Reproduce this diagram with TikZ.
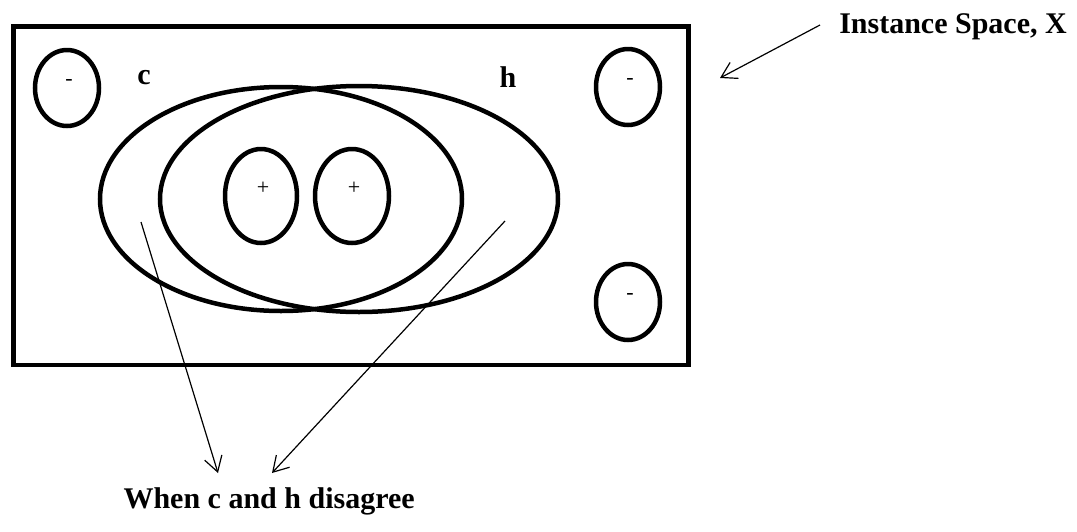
\documentclass[tikz,border=0pt]{standalone}
\usepackage{fontspec}
\setmainfont{Liberation Serif}
\usetikzlibrary{shapes.geometric,arrows.meta}

\begin{document}
\begin{tikzpicture}[x=1pt,y=-1pt,
    region/.style={draw,ellipse,line width=4.5pt,inner sep=0pt},
    sign/.style={inner sep=0pt,font=\fontsize{22}{22}\selectfont},
    lbl/.style={font=\bfseries\fontsize{30}{30}\selectfont},
    pointer/.style={line width=1.2pt,-{Straight Barb[length=15pt,width=18pt]}}]
\useasboundingbox (0,0) rectangle (1077,531);

% Instance space
\draw[line width=4.5pt] (13.5,26.5) rectangle (688.5,365);
\node[lbl,anchor=base] (inst) at (953,33) {Instance Space, X};
\coordinate (instfrom) at (820,25);
\coordinate (instto) at (720,78);
\draw[pointer] (instfrom) -- (instto);

% Negative examples
\node[region,minimum width=64pt,minimum height=76pt] (n1) at (67,88) {};
\node[region,minimum width=64pt,minimum height=76pt] (n2) at (628,87) {};
\node[region,minimum width=64pt,minimum height=76pt] (n3) at (628,302) {};
\node[sign] (n1s) at ([xshift=2pt,yshift=6pt]n1.center) {-};
\node[sign] (n2s) at ([xshift=2pt,yshift=6pt]n2.center) {-};
\node[sign] (n3s) at ([xshift=2pt,yshift=6pt]n3.center) {-};

% Concept c and hypothesis h
\node[region,minimum width=362pt,minimum height=224pt] (c) at (281,199) {};
\node[region,minimum width=398pt,minimum height=226pt] (h) at (359,199) {};
\node[lbl,anchor=base] (clbl) at (144,84) {c};
\node[lbl,anchor=base] (hlbl) at (508,87) {h};

% Positive examples
\node[region,minimum width=72pt,minimum height=94pt] (p1) at (261,196) {};
\node[region,minimum width=74pt,minimum height=94pt] (p2) at (352,196) {};
\node[sign] (p1s) at ([xshift=2pt,yshift=8pt]p1.center) {+};
\node[sign] (p2s) at ([xshift=2pt,yshift=8pt]p2.center) {+};

% Disagreement
\node[lbl,anchor=base west] (dis) at (120,508) {When c and h disagree};
\coordinate (cfrom) at (141,222);
\coordinate (hfrom) at (505,221);
\coordinate (cto) at (218,473);
\coordinate (hto) at (272,473);
\draw[pointer] (cfrom) -- (cto);
\draw[pointer] (hfrom) -- (hto);

\end{tikzpicture}
\end{document}
